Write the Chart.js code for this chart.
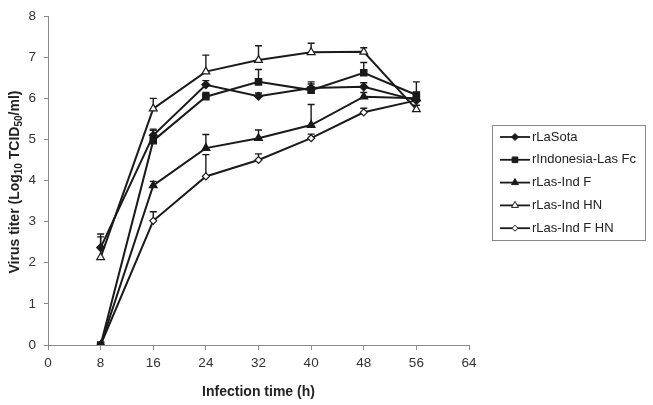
<!DOCTYPE html>
<html>
<head>
<meta charset="utf-8">
<script src="https://cdn.jsdelivr.net/npm/chart.js@4/dist/chart.umd.min.js"></script>
<style>
  html, body { margin: 0; padding: 0; background: #fff; }
  #wrap { width: 653px; height: 405px; position: relative; }
</style>
</head>
<body>
<div id="wrap"><canvas id="titerChart"></canvas></div>
<script>
"use strict";

// ---- data ----
const hours = [8, 16, 24, 32, 40, 48, 56];

const rLaSota      = [2.37, 5.10, 6.33, 6.05, 6.25, 6.28, 5.95];
const rIndonesia   = [0,    4.97, 6.04, 6.40, 6.20, 6.62, 6.08];
const rLasIndF     = [0,    3.88, 4.79, 5.03, 5.35, 6.04, 6.00];
const rLasIndHN    = [2.13, 5.75, 6.65, 6.93, 7.12, 7.13, 5.73];
const rLasIndFHN   = [0,    3.02, 4.10, 4.50, 5.03, 5.66, 5.95];

// upper error (SD) per point
const errLaSota    = [0.33, 0.15, 0.10, 0.08, 0.10, 0.10, 0.10];
const errIndonesia = [0,    0.25, 0.10, 0.30, 0.20, 0.25, 0.32];
const errLasIndF   = [0,    0.10, 0.33, 0.20, 0.50, 0.10, 0.10];
const errLasIndHN  = [0.50, 0.25, 0.40, 0.35, 0.22, 0.10, 0.10];
const errLasIndFHN = [0,    0.22, 0.53, 0.15, 0.10, 0.10, 0.10];

const xTicks = [0, 8, 16, 24, 32, 40, 48, 56, 64];
const yTicks = [0, 1, 2, 3, 4, 5, 6, 7, 8];

const LINE = "#1a1a1a";
const AXIS = "#8a8a8a";
const FONT = "'Liberation Sans', Arial, sans-serif";

const series = [
    { label: "rLaSota",            data: rLaSota,    err: errLaSota,    style: "rectRot",  fill: LINE,   r: 4   },
    { label: "rIndonesia-Las Fc",  data: rIndonesia, err: errIndonesia, style: "rect",     fill: LINE,   r: 4.5 },
    { label: "rLas-Ind F",         data: rLasIndF,   err: errLasIndF,   style: "triangle", fill: LINE,   r: 4.5 },
    { label: "rLas-Ind HN",        data: rLasIndHN,  err: errLasIndHN,  style: "triangle", fill: "#fff", r: 4.5 },
    { label: "rLas-Ind F HN",      data: rLasIndFHN, err: errLasIndFHN, style: "rectRot",  fill: "#fff", r: 3.5 }
];

// error bars (upper only, capped)
const errorBars = {
    id: "errorBars",
    beforeDatasetsDraw(chart) {
        const ctx = chart.ctx;
        const xs = chart.scales.x, ys = chart.scales.y;
        ctx.save();
        ctx.strokeStyle = LINE;
        ctx.lineWidth = 1.4;
        series.forEach(s => {
            s.data.forEach((v, i) => {
                const e = s.err[i];
                if (!e) return;
                const px = xs.getPixelForValue(hours[i]);
                const y0 = ys.getPixelForValue(v);
                const y1 = ys.getPixelForValue(v + e);
                ctx.beginPath();
                ctx.moveTo(px, y0); ctx.lineTo(px, y1);
                ctx.moveTo(px - 3.5, y1); ctx.lineTo(px + 3.5, y1);
                ctx.stroke();
            });
        });
        ctx.restore();
    }
};

// y axis title with subscripts, and boxed legend
const extras = {
    id: "extras",
    afterDraw(chart) {
        const ctx = chart.ctx;
        const area = chart.chartArea;

        // rotated y title
        const parts = [
            { t: "Virus titer (Log", sub: false },
            { t: "10", sub: true },
            { t: " TCID", sub: false },
            { t: "50", sub: true },
            { t: "/ml)", sub: false }
        ];
        const big = "bold 14px " + FONT, small = "bold 10px " + FONT;
        ctx.save();
        let total = 0;
        parts.forEach(p => { ctx.font = p.sub ? small : big; total += ctx.measureText(p.t).width; });
        ctx.translate(15, 182);
        ctx.rotate(-Math.PI / 2);
        ctx.fillStyle = "#222";
        ctx.textBaseline = "middle";
        let x = -total / 2;
        parts.forEach(p => {
            ctx.font = p.sub ? small : big;
            ctx.fillText(p.t, x, p.sub ? 4 : 0);
            x += ctx.measureText(p.t).width;
        });
        ctx.restore();

        // legend box
        const bx = 492, by = 125, bw = 153, bh = 115;
        ctx.save();
        ctx.strokeStyle = "#888";
        ctx.lineWidth = 1;
        ctx.strokeRect(bx + 0.5, by + 0.5, bw, bh);
        ctx.font = "13px " + FONT;
        ctx.textBaseline = "middle";
        series.forEach((s, i) => {
            const cy = by + 12 + i * 22.8;
            ctx.strokeStyle = LINE;
            ctx.lineWidth = 1.8;
            ctx.beginPath();
            ctx.moveTo(bx + 8, cy); ctx.lineTo(bx + 38, cy);
            ctx.stroke();
            ctx.lineWidth = 1;
            ctx.fillStyle = s.fill;
            Chart.helpers.drawPoint(ctx, { pointStyle: s.style, radius: s.r - 0.5, borderWidth: 1 }, bx + 23, cy);
            ctx.fillStyle = "#222";
            ctx.fillText(s.label, bx + 40, cy);
        });
        ctx.restore();
    }
};

new Chart(document.getElementById("titerChart"), {
    type: "line",
    data: {
        datasets: series.map(s => ({
            label: s.label,
            data: s.data.map((v, i) => ({ x: hours[i], y: v })),
            borderColor: LINE,
            borderWidth: 2,
            pointStyle: s.style,
            pointRadius: s.r,
            pointBackgroundColor: s.fill,
            pointBorderColor: LINE,
            pointBorderWidth: 1.2,
            tension: 0,
            fill: false
        }))
    },
    options: {
        responsive: true,
        maintainAspectRatio: false,
        animation: false,
        layout: { padding: { left: 0, right: 184, top: 14, bottom: 0 } },
        plugins: { legend: { display: false }, tooltip: { enabled: false } },
        scales: {
            x: {
                type: "linear",
                min: 0, max: 64,
                afterBuildTicks: sc => { sc.ticks = xTicks.map(v => ({ value: v })); },
                afterFit: sc => { sc.height = 60; },
                grid: { drawOnChartArea: false, drawTicks: true, tickLength: 5, color: AXIS },
                border: { color: AXIS, width: 1 },
                ticks: { color: "#333", font: { family: FONT, size: 13.5 }, padding: 5 },
                title: { display: true, text: "Infection time (h)", color: "#222",
                         font: { family: FONT, size: 14, weight: "bold" }, padding: { top: 6 } }
            },
            y: {
                min: 0, max: 8,
                afterBuildTicks: sc => { sc.ticks = yTicks.map(v => ({ value: v })); },
                afterFit: sc => { sc.width = 48; },
                grid: { drawOnChartArea: false, drawTicks: true, tickLength: 4, color: AXIS },
                border: { color: AXIS, width: 1 },
                ticks: { color: "#333", font: { family: FONT, size: 13.5 }, padding: 8 }
            }
        }
    },
    plugins: [errorBars, extras]
});
</script>
</body>
</html>
